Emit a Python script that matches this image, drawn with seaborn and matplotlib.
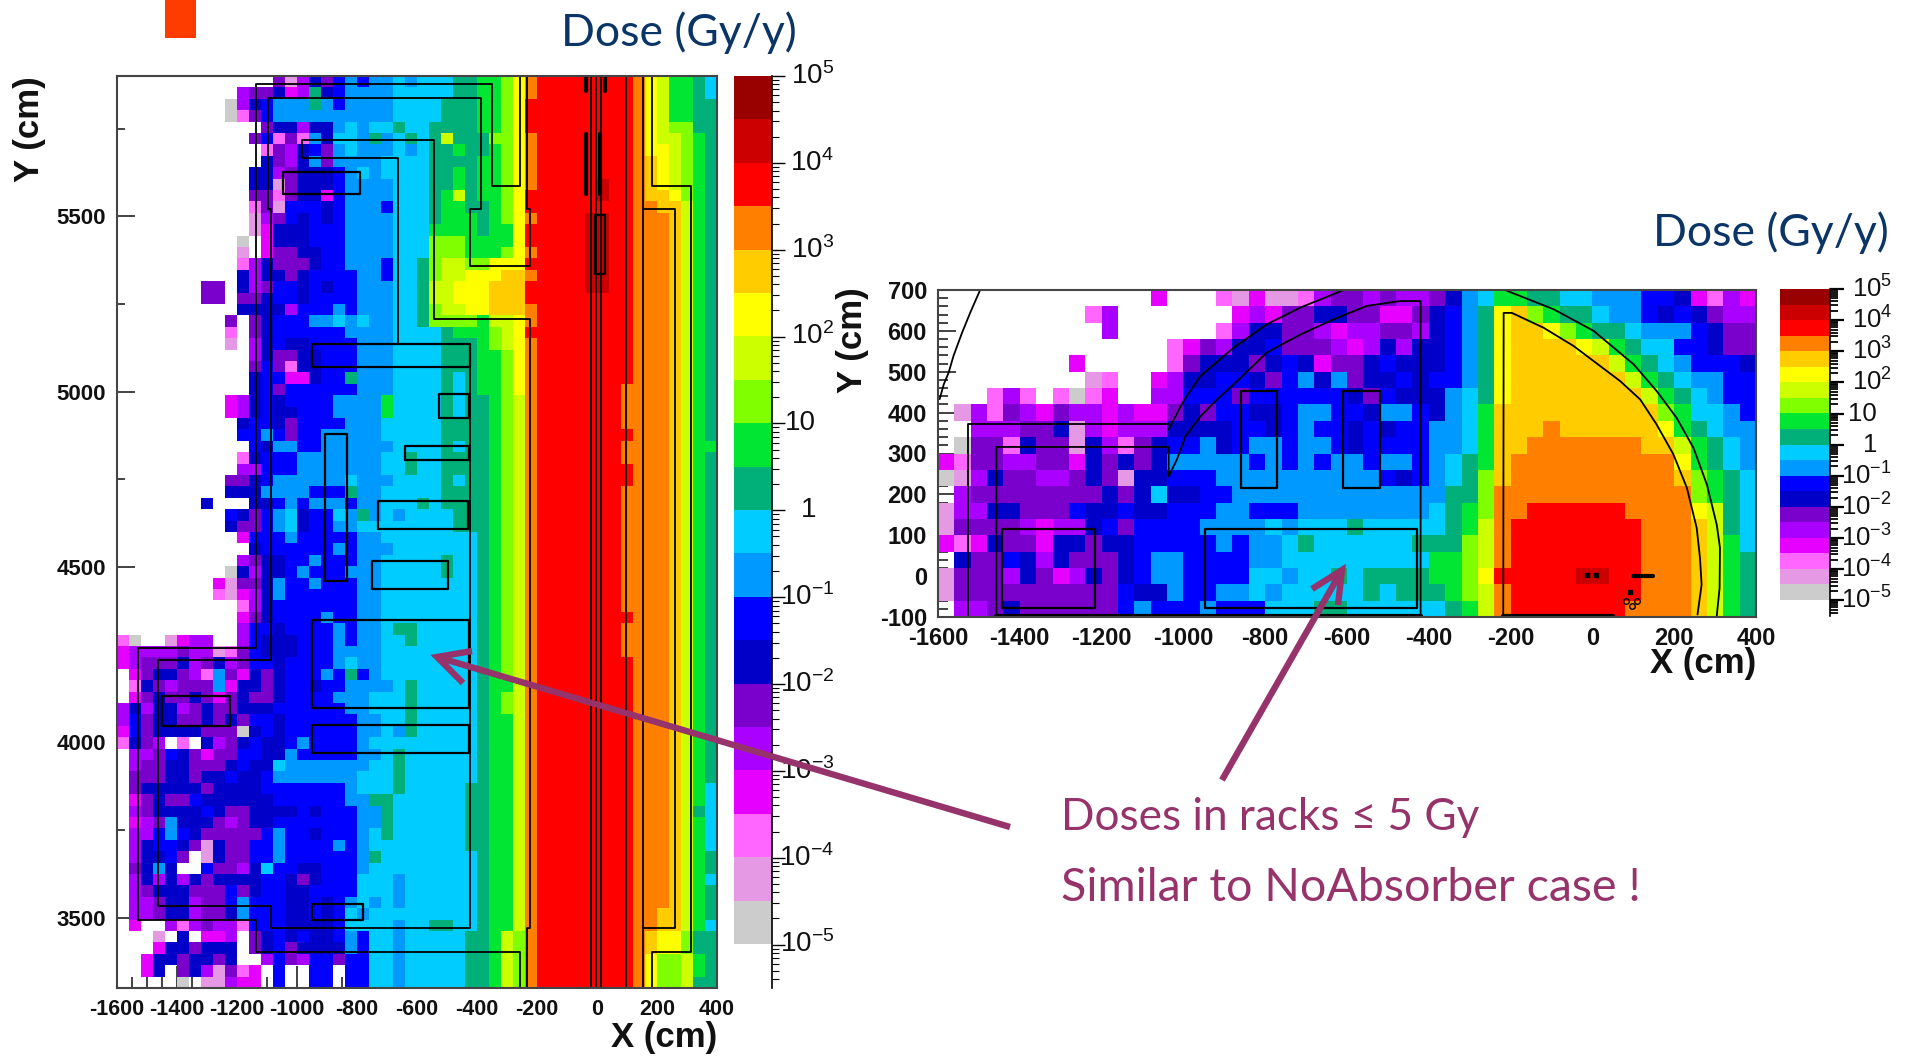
import numpy as np
import pandas as pd
import matplotlib
matplotlib.use("Agg")
import matplotlib.pyplot as plt
from matplotlib.colors import ListedColormap, LogNorm
from matplotlib.patches import Rectangle
from matplotlib.ticker import LogLocator, NullFormatter
import seaborn as sns

W, H = 1912, 1058
LEVELS = "GLPMVUDBACTNHIYWORSK"
COLORS = ["#cccccc", "#e599e5", "#ff66ff", "#e600ff", "#aa00ff", "#7a00cc", "#0000c8", "#0000ff",
          "#0099ff", "#00ccff", "#00b078", "#00e633", "#80ff00", "#ccff00", "#ffff00", "#ffcc00",
          "#ff8000", "#ff0000", "#cc0000", "#990000"]

# left map, 50 columns x 80 rows, top row first: west part then east part ('.' = empty cell)
LEFT_WEST = [
 ".............ULVDUBABAACAC", "..........VUUDMVTDBAAAACCC", ".........GVDBAAATABAAAACCC",
 ".........GPUBAAAAAAAAAACCC", "............UDDVDDACACCTCC", "...........UBPUPADCCATACTC",
 "............PUVDBUACAAACAC", "............DUVDAUAAAACCCC", "...........DDVUDDDBACACCCC",
 "...........DDLUDDDBAAAACCC", "...........UUPUDDMBAAAACCC", "...........PULBBBDBAAABCCC",
 "...........LVUBDBDBAAAACCC", "...........LMDDDBBBAAAACCC", "..........G.MDDDBBBAAAACCC",
 "..........L.MUUDDBBAAAACCC", "..........PVDUUUDBBAAABCCT", "..........DVDDUDBBBBAABCCT",
 ".......UU.DVUBBDBDBBAAACCT", ".......UU.UUDBBDBBBBAAACCT", "..........DDDDVBBBABAAACCT",
 ".........U.UDBBBAACACAACCT", ".........P.UDBBBBBBAAAACCC", ".........L.VDBDDBBBBAAACCC",
 "...........VDUUDDBBBAAACCC", "...........UBUPDDBBBAAACCC", "...........DBBMMDBBTAAACCC",
 "...........DBUBBBBBBAAACCC", ".........MVDBDBBBBAAAANCCC", ".........MVDBDDBBBAAAANCCC",
 "..........DBBDUBBBBAAACCCC", "..........BBABUBBAAAAACCCC", "...........BDAABBAAAAAACCC",
 "..........PDBBBAAAAAAACCTC", "..........VVBBBAAAAAAACCTC", ".........UUDBAAAAAACAAACCC",
 ".........DDDAAAABBBTAACCCC", ".......D...DDBABAAABAACCCT", ".........BDUBACDBBCATACACC",
 ".........DUUBACDBBAACCCCCC", "..........MBBBABBBBBAACCCC", "...........DBBBBBBABAAACCC",
 "..........VUDDBBABBBAACCCC", ".........GDVDDBABBBAAACCCC", "........MLUUDABBABBBAACCCC",
 "........PLMVDABBBBBBAACCCC", "..........PVDBBBBBBBAACCCC", "..........MUDBBBBABBAACCCC",
 "..........VBBDBBBBABAACTTC", "PG..LMVV..VBDDDBBBABAACCTC", "MVVVVUVVLPUBDDDBBBAAAACCCC",
 "MVUUUDVUDVUBBDBBBBACAACCCC", ".MUDDUVPAUMDUDBBBABTBACCCC", ".PDUVUUUAMDDUDBBDBBAAAACTC",
 ".MUDUUDUMUDUUDBBBBAAACCCTC", "VDVDDVUDUUDDDBBBBBBAACCCTC", "VBUDDUUDUDUBBDBBBBBBAACCTC",
 "MBUDDDDUUUGDBDBBBBBBAACATC", "PDUV.P.DVUDBDDBABBBBACCCCC", ".VVUBDUMUUBBDDABBBBBAACTCC",
 ".VUUDDUUUDBDDCAAAAAAACCTCC", ".UUUDDUDDBDDBAAAAAAACCCTCC", ".UDDDDDUDDDDBBBBBBBACCCTCC",
 ".MUDUUBDDDDDDBBBBBBAATTCCC", ".VUDDDDBDUUDDDDBDBBBAATCCC", ".MVUADDDUVUDDBBBBBBBAATCCC",
 ".VVBABDUUUUUBABBDBBBACTCCC", ".VDBBDULDUUBBABBBBABACCCCC", ".VDDBU.LDUUBBABBBBBBATCCCC",
 ".UDAD..BUUVDCBBDDBBBACCCCC", ".VDVDVDUDDDDBBDUDBBBCCCACC", ".VUDDDUUUBUDBBDDBBBBCCCACC",
 ".VVUDDVUUBABBBDDBDBACACACC", ".VVUDDVUUDABBBDDBDBCACCCCC", ".M..VPVUVVPBBBDDDDBCCCCACC",
 "...L.D.MMV.UDBDBDDBABCCACC", "...MDDUDDD.UDBUDDDDABCCACC", "..MDDUDDUD..VBUVBBUBBCCACC",
 "..MD.UDVLUPM.B..BB.BBCCACC", ".....G.LLVMM.B..BB.BBCCACC",
]
LEFT_EAST = [
 "CCTTNNHYORRRRRRRROYINNTC", "CCTTNNHYORRRRRRRROYINNTC", "CTTTNNHYRRRRRRRRROYINNTT",
 "CTTTNNHYRRRRRRRRROYINNTT", "TTTTNNHYRRRRRRRRROYIHHTT", "TITTTHHYORRRRRRRROYIIHNT",
 "TTNTTNHYORRRRRRRROYYIHNT", "TTTTNNHYORRRRRRRROWYIHNT", "TTNTNNHYORRRRRRRROWYIHNT",
 "TTNTNNHYORRRRRSRROWYIHNT", "TNITNNHYRRRRRRSRROWWYHNT", "TNNTTNHYRRRRRRRRROOWWINT",
 "TNNNTNHYORRRRSSRROOOWINT", "NNNNTNNYRRRRRSSRROOOWINT", "HHHNNNNYRRRRRSSRROOOWINT",
 "HHHNNNHYORRRRSSRROOOWINT", "HIIHHYYYRRRRRSSRROOOWINT", "HIIYYYWWORRRRSSRROOOWINT",
 "IIYYYWWWRRRRRSSRROOOWINT", "IIYYYWWWRRRRRRRRROOOWINT", "HIIYYWWWORRRRRRRROOOWINT",
 "HHHHNIIYORRRRRRRROOOWINT", "CTNNNHIYRRRRRRRRROOOWINT", "CTTTNHIYORRRRRRRROOOWINT",
 "CTTTNNHYORRRRRRRROOOWINT", "CTTTNNHYORRRRRRRROOOWINT", "CTCTNNHYORRRRRRRROOOWINT",
 "CTCTNNHYORRRRRRROOOOWINT", "CTCTTNHIORRRRRRROOOOWINT", "CTCTTNHIORRRRRRROOOOWINT",
 "CTTTTNHIORRRRRRROOOOWINT", "CTTTTNHIORRRRRRRROOOWINT", "CTCTTNHIORRRRRRROOOOWINN",
 "CTTTTNHIORRRRRRROOOOWINT", "CTTTTNHIORRRRRRRROOOWINT", "CTCTTNHIORRRRRRRROOOWINT",
 "CTTTTNHIORRRRRRROOOOWINT", "CTTTTNHIORRRRRRROOOOWINT", "CCTTTNHIORRRRRRROOOOWINT",
 "CCTTTNHIORRRRRRROOOOWINT", "CCCCTNHIORRRRRRROOOOWINT", "CCCCTNHIORRRRRRROOOOWINT",
 "CTCCTNHIORRRRRRROOOOWINT", "CTCCTNHIORRRRRRROOOOWINT", "CCCCTNHIORRRRRRROOOOWINT",
 "CCCCTNHIORRRRRRROOOOWINT", "CCCCTNHIORRRRRRROOOOWINT", "CCCCTNHIORRRRRRRROOOWINT",
 "CCCCTNHIORRRRRRROOOOWINT", "CCCCTNHIORRRRRRROOOOWINT", "CCCCTNHIORRRRRRROOOOWINT",
 "CCCCTNHIORRRRRRRROOOWINT", "CCCCTNHIORRRRRRRROOOWINT", "CCCCTNNIORRRRRRRROOOWINT",
 "CCCCTNHIORRRRRRRROOOWINT", "CCCCTNHIORRRRRRRROOOWINT", "CCCCTNNIORRRRRRRROOOWINT",
 "CCCCTNNIORRRRRRRROOOWINT", "CCCCTNNIORRRRRRRROOOWINT", "CCCCTNNIORRRRRRRROOOWINT",
 "CCCCTNNIORRRRRRRROOOWINT", "CCCCTNNIORRRRRRRROOOWINT", "CCCTTNNIORRRRRRRROOOWINC",
 "CCCTTNNIORRRRRRRROOOWINC", "CCCTTNNIORRRRRRRROOOWITC", "CCCTTNNIORRRRRRRROOOWINC",
 "CCCTTNNIORRRRRRRROOOWINC", "CCCTTNNIORRRRRRRROOOWINC", "CCCCTNNIORRRRRRRROOOWINT",
 "CCCCTNNIORRRRRRRROOOWINT", "CCCCTNNIORRRRRRRROOOWINC", "CCCCTNNIORRRRRRRROOOWINT",
 "CCCCTNNIORRRRRRRROOOWINT", "CCCCTNNIORRRRRRRROOWWINT", "TTCCTNNIORRRRRRRROOWWINC",
 "CCCTTNIHORRRRRRRROWYYHTT", "CCCTTNIHORRRRRRRROWYYHTT", "CCCTTNIHORRRRRRRROYHHINT",
 "CCCTTNIHORRRRRRRROYHHINT", "CCCTTNIHORRRRRRRROYHHITT",
]
# right map, 50 columns x 20 rows, top row first
RIGHT_WEST = [
 ".............M..", ".........PV.....", "..........V.....", "..............PM", "........M.....PU",
 ".........LP..MVD", "...PVP.PGPM..VVB", ".LVPUVMUVVMVMMUD", "..VVVUUDLVMVVVDD", ".GUUPDUULDVPUDBB",
 "MPUUVVUUMDUDUDAA", "GLVDUUVVUDULDDBB", ".VUUUUUUUUDUDCDD", "LVVDDUUUBDDBDDBB", "LUUUUVMVVDBUBBBB",
 "MPMDUUMDDUDDBBBB", ".DUUBDVDUUUDBAAB", "LUUUVDUMVDUDBAAB", "LUUUUUUUUUUBDDAB", ".VVUDUUUUUUBABBB",
]
RIGHT_MID = [
 ".PLMLLPVUUVUVVUDAC", "..MVMUUDDUUMMUDBAT", ".PVDDUUVMVVUUVDBAT", "UVDDBUUUVMVDVDDBAT", "DDDUDBDMUUDBDDDBAT",
 "DBBDUBADAUDDBDBBAT", "BBUBBBBBBDUBDDDACT", "UBBDDBAABBDAABDACN", "DDBBDBABBDBDBBAACN", "ADBAABAABDBBBBAACN",
 "AAABABABAABAABACTN", "BAAAAAAAAAABDBACTH", "BBAAAAAAAAAAAAATTH", "BAABBBAAAAAAAACTNH", "AAAACACCCTCCCCCTNI",
 "BABAACTCCCCCCTTTHI", "BBBAACCCCCCCCCNNHI", "BBBCCACCTCTTTTNNHY", "BAACACCCCCTCTTTNHI", "ABBBCCCTTCCCCCCTNI",
]
RIGHT_EAST = [
 "NNTTCCAAABBDMPVM", "YWHNTTCAABDBDUVV", "YWWYHNTTCAAABDUU", "YWWWWYINTCCBBDUU", "YWWWWWWINTCABBBD",
 "YWWWWWWWINTCAABB", "YWWWWWWWWINTCABB", "WWWWWWWWWWHNCCAB", "WWWOWWWWWWYNTCAA", "WWOOOOOOOWWINTCA",
 "WOOOOOOOOOOYNTCA", "WOOOOOOOOOOWHNTC", "OOOOOOOOOOOOHNTC", "OORRRRRROOOOYITC", "ORRRRRRRROOOWITC",
 "ORRRRRRRROOOWINC", "ORRRRRRRROOOWINT", "RRRRRSSRROOOWINT", "ORRRRRRRROOOWINT", "ORRRRRRROOOOWINT",
]

# detector outlines in cm: polylines and boxes (x0, x1, y0, y1)
L_POLYS = [
 [(-258,5900),(-258,5586),(-350,5586),(-350,5878),(-1137,5878),(-1137,4268),(-1530,4268),(-1530,3493),
  (-1137,3493),(-1137,3404),(-258,3404),(-258,3300)],
 [(-232,5900),(-232,5520),(-225,5520),(-225,5358),(-425,5358),(-425,5520),(-388,5520),(-388,5838),
  (-1096,5838),(-1096,5520),(-1088,5520),(-1088,4234),(-1462,4234),(-1462,3533),(-1088,3533),(-1088,3471),
  (-425,3471),(-425,5137)],
 [(-663,5137),(-663,5667),(-983,5667),(-983,5718),(-544,5718),(-544,5206),(-225,5206),(-225,3472),(-232,3472),(-232,3300)],
 [(183,5900),(183,5586),(312,5586),(312,3404),(183,3404),(183,3300)],
 [(153,5900),(153,3300)], [(153,5520),(259,5520),(259,3471),(153,3471)],
 [(-20,5900),(-20,3300)], [(-3,5900),(-3,3300)], [(14,5900),(14,3300)], [(98,5900),(98,3300)],
]
L_BOXES = [(-1047,-789,5563,5627),(-949,-425,5069,5137),(-527,-428,4924,4994),(-640,-428,4804,4845),
           (-908,-833,4461,4880),(-731,-431,4608,4687),(-749,-497,4437,4517),(-949,-428,4097,4348),
           (-949,-428,3969,4049),(-949,-779,3493,3540),(-1450,-1224,4047,4133),(-6,28,5335,5503)]
L_THICK = [[(-38,5900),(-38,5857)],[(28,5900),(28,5857)],[(-38,5736),(-38,5563)],[(10,5736),(10,5563)]]

R_POLYS = [
 [(-1497,700),(-1521,645),(-1541,596),(-1562,539),(-1574,498),(-1586,469),(-1596,433)],
 [(-1527,-100),(-1527,371),(-1036,371)],
 [(-1036,359),(-1000,428),(-959,489),(-877,559),(-796,616),(-714,657),(-608,700)],
 [(-1457,-100),(-1457,316),(-1036,316),(-1036,244),(-1016,285),(-995,342),(-959,390),(-918,432),(-877,469),
  (-796,547),(-714,591),(-633,628),(-552,661),(-470,673),(-420,673),(-420,-100)],
 [(-218,-100),(-217,644),(-197,644),(-120,608),(-46,563),(19,514),(68,477),(117,432),(157,371),(198,298),
  (231,216),(255,118),(263,45),(267,-21),(257,-94)],
 [(-209,698),(-95,653),(3,600),(101,518),(157,453),(206,387),(247,314),(280,224),(304,126),(312,69),(311,-29),(304,-98)],
]
R_BOXES = [(-1444,-1216,-78,115),(-947,-429,-78,115),(-859,-770,216,453),(-609,-520,216,453)]
R_THICK = [[(100,0),(149,0)],[(-1457,-97),(-420,-97)],[(-218,-97),(50,-97)]]
R_DOTS_X = [-14,10,92]
R_DOTS_Y = [2,2,-39]
R_OPEN_X = [82,110,96]
R_OPEN_Y = [-60,-60,-74]

X_MAJOR = list(range(-1600, 401, 200))
X_MINOR = list(range(-1550, 400, 50))
LY_MAJOR = [3500, 4000, 4500, 5000, 5500]
LY_MINOR = [3750, 4250, 4750, 5250, 5750]
RY_MAJOR = list(range(-100, 701, 100))
RY_MINOR = list(range(-80, 700, 20))
CB_EXPS = [5, 4, 3, 2, 1, 0, -1, -2, -3, -4, -5]

sns.set_theme(style="white")
SANS = ["Liberation Sans", "DejaVu Sans"]
plt.rcParams["font.family"] = SANS
plt.rcParams["mathtext.fontset"] = "custom"
plt.rcParams["mathtext.rm"] = "Liberation Sans"
plt.rcParams["mathtext.default"] = "rm"

fig = plt.figure(figsize=(W / 100, H / 100), dpi=100, facecolor="white")


def pane(x0, x1, top, bottom):
    return fig.add_axes([x0 / W, 1 - bottom / H, (x1 - x0) / W, (bottom - top) / H])


def to_dose(rows):
    values = [[np.nan if ch == "." else 10 ** (-5 + (LEVELS.index(ch) + 0.5) / 2) for ch in row] for row in rows]
    return pd.DataFrame(values)


left_rows = [a + b for a, b in zip(LEFT_WEST, LEFT_EAST)]
right_rows = [a + b + c for a, b, c in zip(RIGHT_WEST, RIGHT_MID, RIGHT_EAST)]
assert all(len(r) == 50 for r in left_rows) and len(left_rows) == 80, [len(r) for r in left_rows]
assert all(len(r) == 50 for r in right_rows) and len(right_rows) == 20, [len(r) for r in right_rows]

cmap = ListedColormap(COLORS)
norm = LogNorm(1e-5, 1e5)


def panel(rows, box, cbox, ytop, ystep, ymaj, ymin, ymaj_len, ymin_len, polys, boxes, thick, xpad, ypad, xfs, yfs):
    ax = pane(*box)
    cax = pane(*cbox)
    sns.heatmap(to_dose(rows), ax=ax, cmap=cmap, norm=norm, cbar=True, cbar_ax=cax,
                xticklabels=False, yticklabels=False)
    cax.set_yticks([]); cax.minorticks_off()
    cax.tick_params(which="both", length=0, labelright=False)
    for s in cax.spines.values():
        s.set_visible(False)
    fx = lambda x: (np.asarray(x, float) + 1600) / 40
    fy = lambda y: (ytop - np.asarray(y, float)) / ystep
    ax.set_xticks(fx(X_MAJOR)); ax.set_xticklabels([str(v) for v in X_MAJOR], rotation=0, fontweight="bold", fontsize=xfs)
    ax.set_xticks(fx(X_MINOR), minor=True)
    ax.set_yticks(fy(ymaj)); ax.set_yticklabels([str(v) for v in ymaj], rotation=0, fontweight="bold", fontsize=yfs)
    ax.set_yticks(fy(ymin), minor=True)
    ax.tick_params(axis="x", which="major", direction="in", length=16, width=1.2, color="#222222", pad=xpad, bottom=True, labelcolor="#111111")
    ax.tick_params(axis="x", which="minor", direction="in", length=8, width=1.2, color="#222222", bottom=True)
    ax.tick_params(axis="y", which="major", direction="in", length=ymaj_len, width=1.2, color="#222222", pad=ypad, left=True, labelcolor="#111111")
    ax.tick_params(axis="y", which="minor", direction="in", length=ymin_len, width=1.2, color="#222222", left=True)
    for s in ax.spines.values():
        s.set_visible(True); s.set_color("#444444"); s.set_linewidth(1.5)
    for p in polys:
        ax.plot(fx([q[0] for q in p]), fy([q[1] for q in p]), color="black", lw=1.3)
    for x0, x1, y0, y1 in boxes:
        ax.plot(fx([x0, x1, x1, x0, x0]), fy([y0, y0, y1, y1, y0]), color="black", lw=1.6)
    for p in thick:
        ax.plot(fx([q[0] for q in p]), fy([q[1] for q in p]), color="black", lw=3)
    return ax, fx, fy


axL, _, _ = panel(left_rows, (117, 717, 76, 988), (734, 772, 76, 944), 5900, 32.5, LY_MAJOR, LY_MINOR, 13, 6,
                  L_POLYS, L_BOXES, L_THICK, 8, 8, 15.5, 16)
axR, fxR, fyR = panel(right_rows, (938, 1756, 290, 617), (1780, 1830, 289, 600), 700, 40, RY_MAJOR, RY_MINOR, 13, 7,
                      R_POLYS, R_BOXES, R_THICK, 7, 8, 17, 17)
axR.plot(fxR(R_DOTS_X), fyR(R_DOTS_Y), ls="none", marker="s", ms=3.5, color="black")
axR.plot(fxR(R_OPEN_X), fyR(R_OPEN_Y), ls="none", marker="o", ms=4, mfc="none", mec="black", mew=1)


def scale_axis(x0, x1, top, bottom, maj, mnr, lw, base_dx, exp_dx, fs):
    t = pane(x0, x1, top, bottom)
    t.patch.set_alpha(0)
    t.set_xticks([])
    t.set_yscale("log")
    t.set_ylim(10 ** -5.5, 1e5)
    t.yaxis.tick_right()
    t.yaxis.set_major_locator(LogLocator(base=10, numticks=15))
    t.yaxis.set_minor_locator(LogLocator(base=10, subs=range(2, 10), numticks=15))
    t.yaxis.set_major_formatter(NullFormatter())
    t.yaxis.set_minor_formatter(NullFormatter())
    t.tick_params(axis="y", which="major", right=True, direction="out", length=maj, width=lw, color="black")
    t.tick_params(axis="y", which="minor", right=True, direction="out", length=mnr, width=lw * 0.8, color="black")
    for k in ("left", "top", "bottom"):
        t.spines[k].set_visible(False)
    t.spines["right"].set_color("black"); t.spines["right"].set_linewidth(1.2)
    for e in CB_EXPS:
        plain = e in (0, 1)
        s = "1" if e == 0 else "10" if e == 1 else rf"$\mathregular{{10^{{{e}}}}}$"
        t.annotate(s, xy=(1, 10.0 ** e), xycoords=t.get_yaxis_transform(),
                   xytext=(base_dx if plain else exp_dx, 0), textcoords="offset pixels",
                   ha="right", va="center", fontsize=fs, color="#111111")
    return t


scale_axis(734, 772, 76, 988, 9, 5, 1.0, 44, 62, 20)
scale_axis(1780, 1830, 289, 616, 10, 6, 1.6, 47, 62, 18.5)

# free annotation layer in picture pixels
ov = fig.add_axes([0, 0, 1, 1], zorder=10)
ov.set_xlim(0, W); ov.set_ylim(H, 0); ov.axis("off"); ov.patch.set_alpha(0)
ov.add_patch(Rectangle((165, 0), 31, 38, color="#ff3c00", lw=0))
NAVY, PLUM = "#0b3566", "#96336b"
HAND = ["Lato", "DejaVu Sans"]
ov.text(561, 33, "Dose (Gy/y)", color=NAVY, fontsize=32, family=HAND, va="center")
ov.text(1653, 233, "Dose (Gy/y)", color=NAVY, fontsize=32, family=HAND, va="center")
ov.text(1061, 817, "Doses in racks ≤ 5 Gy", color=PLUM, fontsize=31.7, family=HAND, va="center")
ov.text(1061, 888, "Similar to NoAbsorber case !", color=PLUM, fontsize=33.5, family=HAND, va="center")
bold = dict(color="#111111", fontweight="bold", fontsize=25, family=SANS)
ov.text(717, 1037, "X (cm)", ha="right", va="center", **bold)
ov.text(30, 129, "Y (cm)", ha="center", va="center", rotation=90, **bold)
ov.text(1756, 664, "X (cm)", ha="right", va="center", **bold)
ov.text(853, 340, "Y (cm)", ha="center", va="center", rotation=90, **bold)
for pts in ([(1010, 827), (437, 657)], [(472, 651), (437, 657), (463, 683)],
            [(1222, 780), (1342, 570)], [(1312, 589), (1342, 570), (1338, 605)]):
    ov.plot([p[0] for p in pts], [p[1] for p in pts], color=PLUM, lw=4.6, solid_capstyle="butt", solid_joinstyle="miter")

fig.savefig("out.png", dpi=100)
